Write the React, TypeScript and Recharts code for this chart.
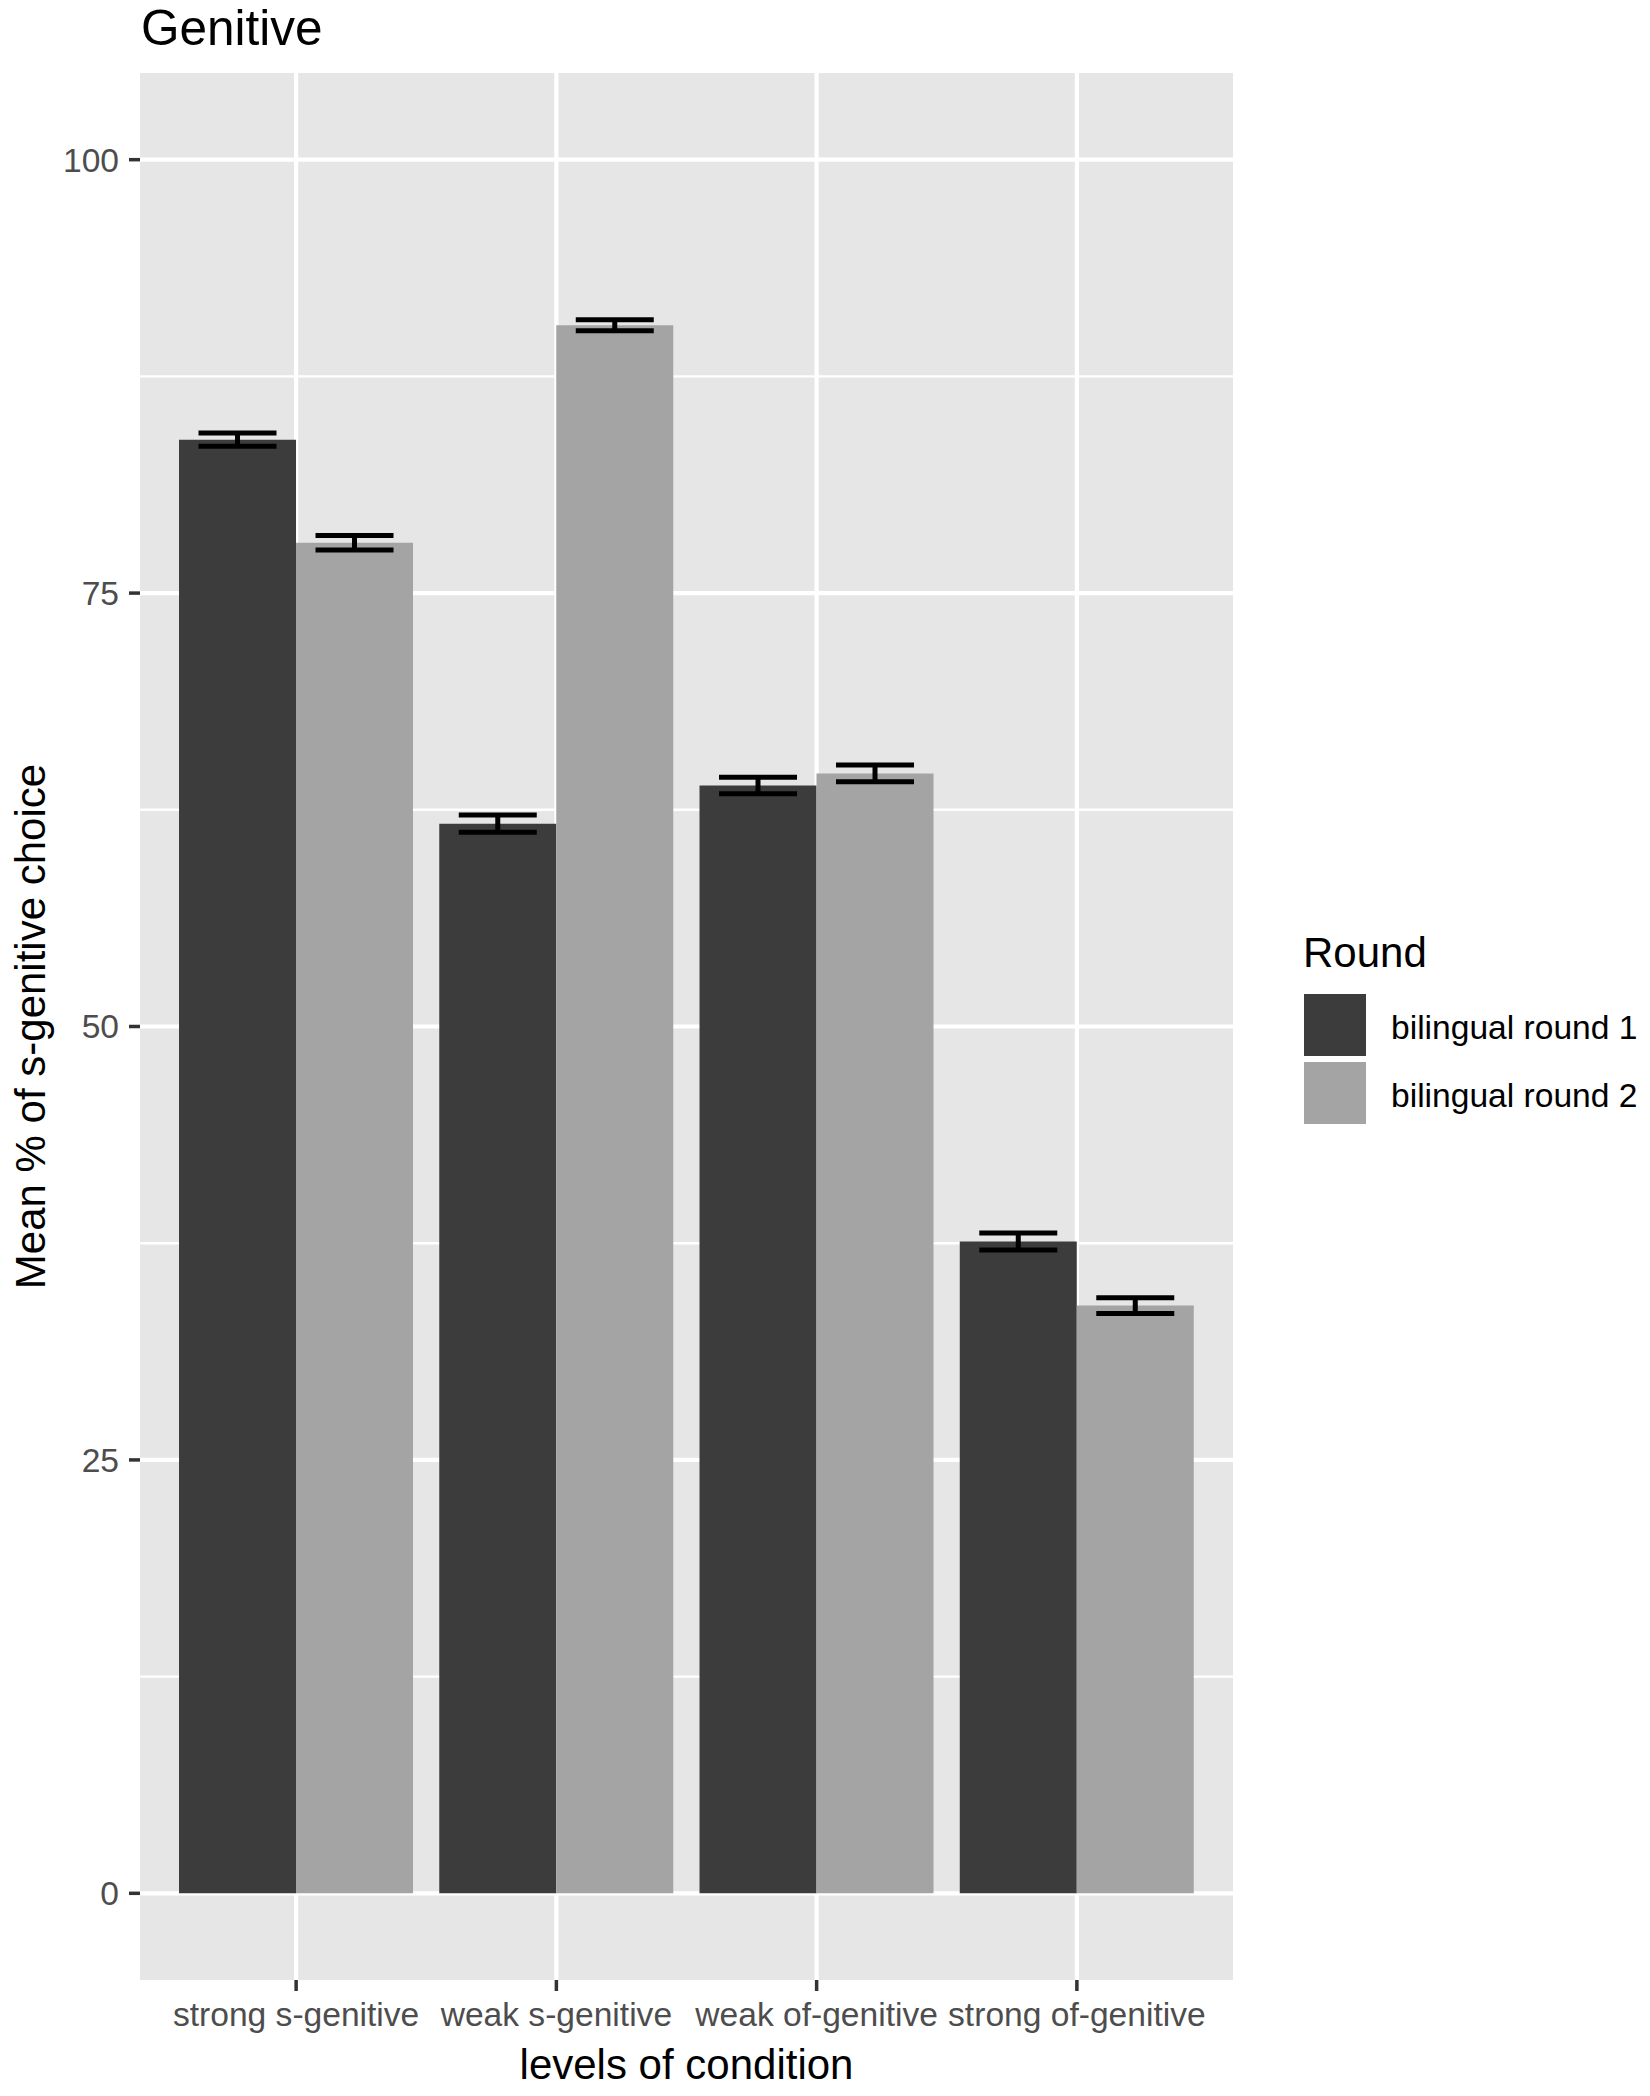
import React from 'react';
import {
  BarChart,
  Bar,
  XAxis,
  YAxis,
  CartesianGrid,
  ErrorBar,
  Legend,
  Label
} from 'recharts';

const categories = ['strong s-genitive', 'weak s-genitive', 'weak of-genitive', 'strong of-genitive'];
const round1Means = [83.85, 61.7, 63.9, 37.6];
const round1Errors = [0.38, 0.5, 0.48, 0.49];
const round2Means = [77.9, 90.45, 64.6, 33.9];
const round2Errors = [0.42, 0.32, 0.48, 0.46];
const seriesNames = ['bilingual round 1', 'bilingual round 2'];
const seriesColors = ['#3C3C3C', '#A4A4A4'];
const yTicks = [0, 25, 50, 75, 100];
const yMinorTicks = [12.5, 37.5, 62.5, 87.5];

const data = categories.map((condition, i) => ({
  condition,
  r1: round1Means[i],
  r1Err: round1Errors[i],
  r2: round2Means[i],
  r2Err: round2Errors[i]
}));

const FONT = "'Liberation Sans', Arial, Helvetica, sans-serif";

const RoundLegend = (props: any) => {
  const payload = props.payload || [];
  return (
    <svg width={360} height={220} style={{ display: 'block', fontFamily: FONT }}>
      <text x={13} y={47} fontSize={42} fill="#000">Round</text>
      {payload.map((entry: any, i: number) => (
        <g key={`key-${i}`}>
          <rect x={14} y={74 + i * 68} width={62} height={62} fill={entry.color} />
          <text x={101} y={74 + i * 68 + 45} fontSize={33.6} fill="#000">{entry.value}</text>
        </g>
      ))}
    </svg>
  );
};

const YTitle = (props: any) => {
  const vb = props.viewBox || { x: 0, y: 0, height: 0 };
  const cx = vb.x + 45;
  const cy = vb.y + vb.height / 2;
  return (
    <text x={cx} y={cy} textAnchor="middle" fontSize={42} fill="#000"
      fontFamily={FONT} transform={`rotate(-90, ${cx}, ${cy})`}>
      Mean % of s-genitive choice
    </text>
  );
};

const XTitle = (props: any) => {
  const vb = props.viewBox || { x: 0, y: 0, width: 0 };
  return (
    <text x={vb.x + vb.width / 2} y={vb.y + 99} textAnchor="middle" fontSize={42}
      fill="#000" fontFamily={FONT}>
      levels of condition
    </text>
  );
};

const App: React.FC = () => {
  return (
    <div style={{ position: 'absolute', left: 0, top: 0, width: 1650, height: 2096, background: '#fff', fontFamily: FONT }}>
      <BarChart
        width={1650}
        height={2096}
        data={data}
        margin={{ top: 73, right: 417, bottom: 56, left: 0 }}
        barCategoryGap="5%"
        barGap={0}
      >
        <CartesianGrid fill="#E6E6E6" stroke="#FFFFFF" strokeWidth={2.4}
          vertical={false} horizontalValues={yMinorTicks} />
        <CartesianGrid stroke="#FFFFFF" strokeWidth={4.2}
          horizontalValues={yTicks} verticalValues={categories} />
        <XAxis
          dataKey="condition"
          height={60}
          interval={0}
          padding={{ left: 26, right: 26 }}
          axisLine={false}
          tickSize={11}
          tickMargin={11}
          tickLine={{ stroke: '#333333', strokeWidth: 3.5 }}
          tick={{ fill: '#4D4D4D', fontSize: 33.6, fontFamily: FONT }}
        >
          <Label content={<XTitle />} />
        </XAxis>
        <YAxis
          type="number"
          width={140}
          domain={[-5, 105]}
          allowDataOverflow
          ticks={yTicks}
          axisLine={false}
          tickSize={11}
          tickMargin={10}
          tickLine={{ stroke: '#333333', strokeWidth: 3.5 }}
          tick={{ fill: '#4D4D4D', fontSize: 33.6, fontFamily: FONT }}
        >
          <Label content={<YTitle />} />
        </YAxis>
        <Legend
          layout="vertical"
          align="center"
          verticalAlign="middle"
          wrapperStyle={{ left: 1290, top: 920, width: 360, height: 220 }}
          content={<RoundLegend />}
        />
        <Bar dataKey="r1" name={seriesNames[0]} fill={seriesColors[0]} isAnimationActive={false}>
          <ErrorBar dataKey="r1Err" direction="y" width={39} stroke="#000" strokeWidth={5} isAnimationActive={false} />
        </Bar>
        <Bar dataKey="r2" name={seriesNames[1]} fill={seriesColors[1]} isAnimationActive={false}>
          <ErrorBar dataKey="r2Err" direction="y" width={39} stroke="#000" strokeWidth={5} isAnimationActive={false} />
        </Bar>
      </BarChart>
      <svg width={1650} height={110} style={{ position: 'absolute', left: 0, top: 0, pointerEvents: 'none' }}>
        <text x={141} y={45} fontSize={49.5} fill="#000" fontFamily={FONT}>Genitive</text>
      </svg>
    </div>
  );
};

export default App;
